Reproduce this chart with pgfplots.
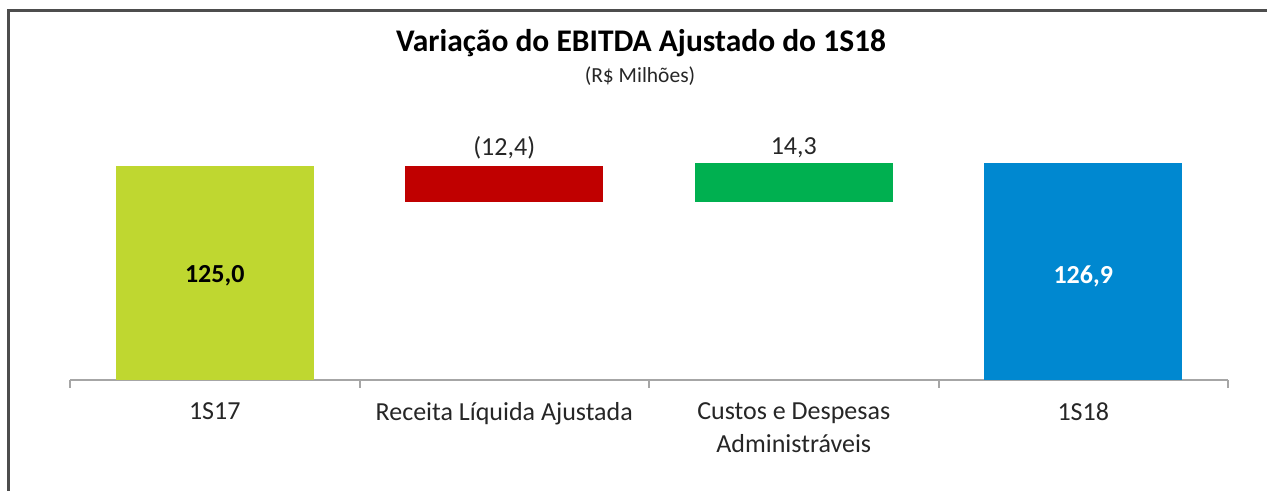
\documentclass[border=0pt]{standalone}
\usepackage{fontspec}
\setmainfont{Carlito}
\usepackage{pgfplots}
\pgfplotsset{compat=1.18}
\definecolor{cLime}{HTML}{BFD730}
\definecolor{cRed}{HTML}{C00000}
\definecolor{cGreen}{HTML}{00B050}
\definecolor{cBlue}{HTML}{0088D0}
\definecolor{cAxis}{HTML}{A6A6A6}
\definecolor{cFrame}{HTML}{4D4D4D}
\definecolor{cText}{HTML}{262626}

\begin{document}
\begin{tikzpicture}[x=0.4pt,y=0.4pt]
\useasboundingbox (0,0) rectangle (1267,491);
\draw[line width=1.2pt, color=cFrame] (8.5,-20) |- (1300,480.5);
\node[font=\fontsize{12.6}{14}\selectfont\bfseries, text=black] at (641,448) {Variação do EBITDA Ajustado do 1S18};
\node[font=\fontsize{8.6}{10}\selectfont, text=cText] at (640,415) {(R\$ Milhões)};
\begin{axis}[
    at={(28pt,44.4pt)}, anchor=south west,
    scale only axis, width=463.2pt, height=109.6pt,
    xmin=-0.5, xmax=3.5, ymin=0, ymax=160,
    ybar stacked, bar width=0.684,
    axis x line*=bottom, axis y line=none,
    x axis line style={-, draw=cAxis, line width=0.8pt},
    xtick={0,1,2,3},
    xticklabels={1S17, Receita Líquida Ajustada, {Custos e Despesas\\Administráveis}, 1S18},
    major tick length=0pt,
    minor xtick={-0.5,0.5,1.5,2.5,3.5},
    minor tick length=3.2pt, tick align=outside,
    minor tick style={draw=cAxis, line width=0.8pt},
    xticklabel style={font=\fontsize{10.4}{13.2}\selectfont, text=cText, align=center, yshift=-5.4pt},
    clip=false,
]
% invisible base of the floating bars
\addplot[draw=none, fill=none] coordinates {(0,0) (1,104.1) (2,104.1) (3,0)};
\addplot[draw=none, fill=cLime] coordinates {(0,125.0) (1,0) (2,0) (3,0)};
\addplot[draw=none, fill=cRed] coordinates {(0,0) (1,20.9) (2,0) (3,0)};
\addplot[draw=none, fill=cGreen] coordinates {(0,0) (1,0) (2,22.8) (3,0)};
\addplot[draw=none, fill=cBlue] coordinates {(0,0) (1,0) (2,0) (3,126.9)};

\coordinate (l0) at (axis cs:0,60.7);
\coordinate (l1) at (axis cs:1,135.5);
\coordinate (l2) at (axis cs:2,135.5);
\coordinate (l3) at (axis cs:3,60.7);
\end{axis}
\node[font=\fontsize{10.4}{12}\selectfont\bfseries, text=black] at (l0) {125,0};
\node[font=\fontsize{10.4}{12}\selectfont, text=cText] at (l1) {(12,4)};
\node[font=\fontsize{10.4}{12}\selectfont, text=cText] at (l2) {14,3};
\node[font=\fontsize{10.4}{12}\selectfont\bfseries, text=white] at (l3) {126,9};
\end{tikzpicture}
\end{document}
